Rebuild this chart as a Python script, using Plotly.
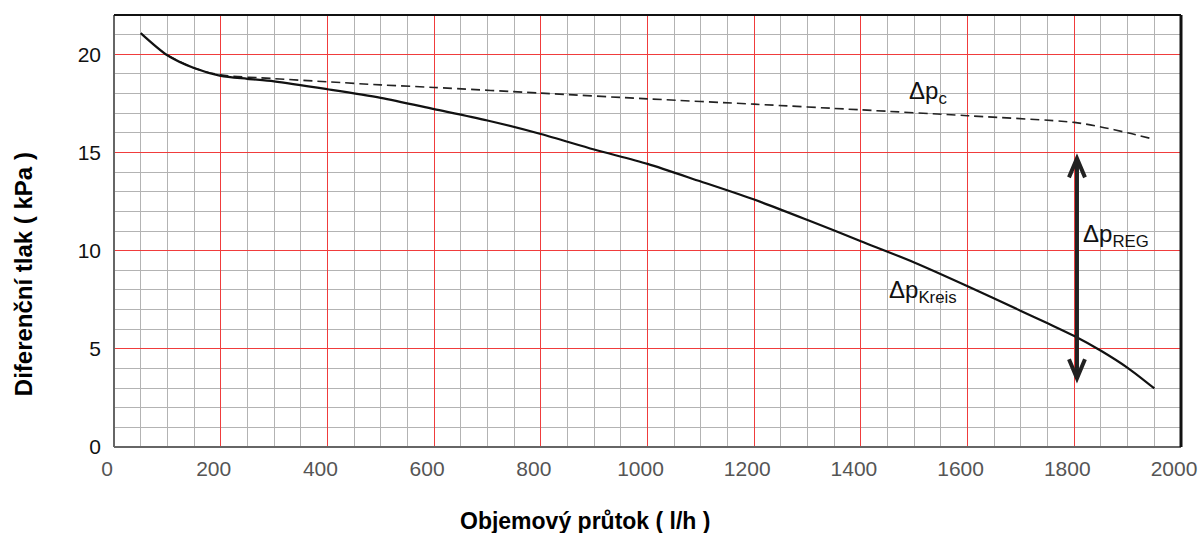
import plotly.graph_objects as go

# ---- data ----
flow_kreis = [50, 100, 150, 200, 250, 300, 400, 500, 600, 700, 800, 900, 1000,
              1100, 1200, 1300, 1400, 1500, 1600, 1700, 1750, 1800, 1850, 1900, 1950]
dp_kreis = [21.08, 19.95, 19.3, 18.9, 18.75, 18.62, 18.22, 17.78, 17.21, 16.63, 15.94,
            15.15, 14.42, 13.52, 12.6, 11.56, 10.48, 9.4, 8.19, 6.93, 6.3, 5.65, 4.9, 4.03, 2.98]

flow_c = [100, 150, 200, 300, 400, 500, 600, 800, 1000, 1200, 1400, 1600, 1800, 1850, 1900, 1945]
dp_c = [19.95, 19.3, 18.95, 18.76, 18.6, 18.44, 18.31, 18.02, 17.73, 17.46, 17.17,
        16.87, 16.53, 16.3, 16.0, 15.7]

arrow_flow = 1805
arrow_top = 14.7
arrow_bottom = 3.5

x_ticks = [0, 200, 400, 600, 800, 1000, 1200, 1400, 1600, 1800, 2000]
y_ticks = [0, 5, 10, 15, 20]
x_minor = [v for v in range(50, 2000, 50) if v % 200 != 0]
y_minor = [v for v in range(1, 22) if v % 5 != 0]

x_title = "Objemový průtok ( l/h )"
y_title = "Diferenční tlak ( kPa )"

# ---- figure ----
W, H = 1200, 533
ML, MR, MT, MB = 114, 19, 15, 86
XMAX, YMAX = 2000, 22
plot_w = W - ML - MR
plot_h = H - MT - MB
xu = XMAX / plot_w   # data units per pixel
yu = YMAX / plot_h

FONT = "Liberation Sans, Arial, sans-serif"

fig = go.Figure()
fig.add_trace(go.Scatter(x=flow_c, y=dp_c, mode="lines",
                         line=dict(color="#222", width=1.6, dash="9px,5px", shape="spline", smoothing=0.8),
                         hoverinfo="skip", showlegend=False))
fig.add_trace(go.Scatter(x=flow_kreis, y=dp_kreis, mode="lines",
                         line=dict(color="#111", width=2.2, shape="spline", smoothing=0.8),
                         hoverinfo="skip", showlegend=False))

shapes = []
acol = "#222"
shapes.append(dict(type="line", xref="x", yref="y", x0=arrow_flow, x1=arrow_flow,
                   y0=arrow_bottom + 0.1, y1=arrow_top - 0.1, line=dict(color=acol, width=4)))
hw, hh = 8 * xu, 19 * yu
shapes.append(dict(type="path", xref="x", yref="y",
                   path=f"M {arrow_flow - hw},{arrow_top - hh} L {arrow_flow},{arrow_top} L {arrow_flow + hw},{arrow_top - hh}",
                   line=dict(color=acol, width=4)))
shapes.append(dict(type="path", xref="x", yref="y",
                   path=f"M {arrow_flow - hw},{arrow_bottom + hh} L {arrow_flow},{arrow_bottom} L {arrow_flow + hw},{arrow_bottom + hh}",
                   line=dict(color=acol, width=4)))
shapes += [
    dict(type="line", xref="paper", yref="paper", x0=0, x1=0, y0=0, y1=1, line=dict(color="#666", width=2), layer="above"),
    dict(type="line", xref="paper", yref="paper", x0=0, x1=1, y0=0, y1=0, line=dict(color="#666", width=2), layer="above"),
    dict(type="line", xref="paper", yref="paper", x0=0, x1=1, y0=1, y1=1, line=dict(color="#111", width=2), layer="above"),
    dict(type="line", xref="paper", yref="paper", x0=1, x1=1, y0=0, y1=1, line=dict(color="#111", width=3), layer="above"),
]

lab_font = dict(family=FONT, size=24, color="#111")
annotations = [
    dict(x=1486, y=18.05, xref="x", yref="y", text="Δp<sub>c</sub>", showarrow=False,
         xanchor="left", yanchor="middle", font=lab_font),
    dict(x=1812, y=10.75, xref="x", yref="y", text="Δp<sub>REG</sub>", showarrow=False,
         xanchor="left", yanchor="middle", font=lab_font),
    dict(x=1449, y=7.9, xref="x", yref="y", text="Δp<sub>Kreis</sub>", showarrow=False,
         xanchor="left", yanchor="middle", font=lab_font),
    dict(x=0.441, y=0, xref="paper", yref="paper", yshift=-74, text=f"<b>{x_title}</b>",
         showarrow=False, xanchor="center", yanchor="middle",
         font=dict(family=FONT, size=23, color="#000")),
    dict(x=0, y=0.40, xref="paper", yref="paper", xshift=-91, text=f"<b>{y_title}</b>",
         textangle=-90, showarrow=False, xanchor="center", yanchor="middle",
         font=dict(family=FONT, size=24, color="#000")),
]

red = "#f03c3c"
gray = "#b3b3b3"
fig.update_layout(
    width=W, height=H,
    margin=dict(l=ML, r=MR, t=MT, b=MB, autoexpand=False),
    plot_bgcolor="white", paper_bgcolor="white",
    shapes=shapes, annotations=annotations,
    xaxis=dict(range=[0, XMAX], tickvals=x_ticks, ticktext=[str(v) for v in x_ticks],
               showgrid=True, gridcolor=red, gridwidth=1.3, zeroline=False, showline=False,
               ticks="", ticklabelshift=-7, ticklabelstandoff=7, automargin=False,
               tickfont=dict(family=FONT, size=21, color="#555"),
               minor=dict(tickvals=x_minor, showgrid=True, gridcolor=gray, gridwidth=1.3),
               fixedrange=True),
    yaxis=dict(range=[0, YMAX], tickvals=y_ticks, ticktext=[str(v) for v in y_ticks],
               showgrid=True, gridcolor=red, gridwidth=1.3, zeroline=False, showline=False,
               ticks="", ticklabelstandoff=12, automargin=False,
               tickfont=dict(family=FONT, size=21, color="#111"),
               minor=dict(tickvals=y_minor, showgrid=True, gridcolor=gray, gridwidth=1.3),
               fixedrange=True),
)

fig.write_html("out.html", config={"displayModeBar": False},
               post_script="document.body.style.margin='0';document.body.style.overflow='hidden';")
